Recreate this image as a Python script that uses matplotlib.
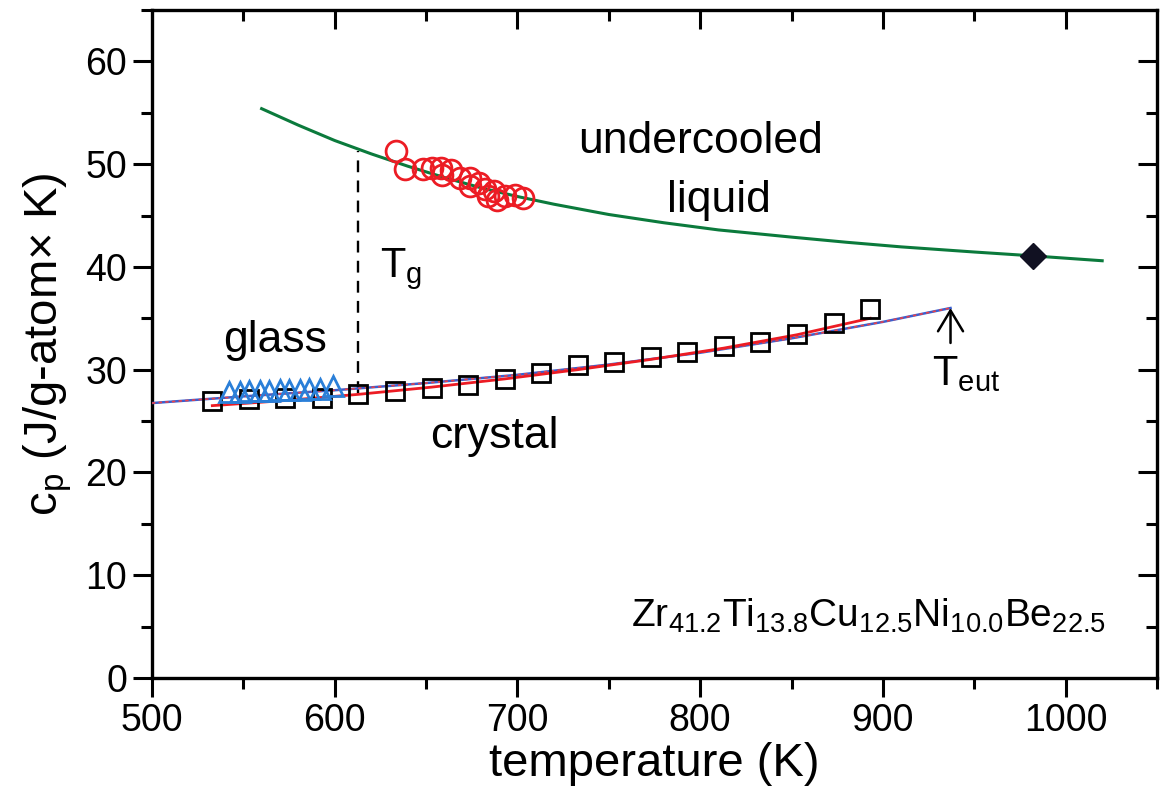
import matplotlib
matplotlib.use("Agg")
import matplotlib.pyplot as plt
import numpy as np

plt.rcParams['font.family'] = ['Liberation Sans', 'DejaVu Sans']
plt.rcParams['mathtext.fontset'] = 'custom'
plt.rcParams['mathtext.rm'] = 'Liberation Sans'
plt.rcParams['mathtext.it'] = 'Liberation Sans'
plt.rcParams['mathtext.default'] = 'regular'

# undercooled liquid fit (green)
liq_T = [560, 580, 600, 620, 640, 660, 680, 700, 720, 750, 780, 810, 850, 880, 910, 950, 980, 1020]
liq_cp = [55.4, 53.8, 52.3, 51.0, 49.8, 48.7, 47.7, 46.85, 46.1, 45.1, 44.3, 43.6, 42.9, 42.4, 41.95, 41.45, 41.1, 40.6]

# undercooled liquid data (red circles)
uc_T = [633.5, 638.5, 648.2, 653.1, 658.0, 658.6, 663.7, 668.6, 674.1, 674.1, 679.2, 682.3, 684.1, 687.2, 688.7, 693.2, 698.7, 703.2]
uc_cp = [51.25, 49.5, 49.5, 49.6, 49.6, 48.9, 49.4, 48.7, 48.7, 47.9, 48.2, 47.6, 46.9, 47.4, 46.5, 46.9, 47.0, 46.7]

# glass data (blue triangles)
gl_T = [542, 548, 553, 559, 564, 570, 575, 581, 586, 592, 599]
gl_cp = [27.8, 27.85, 27.9, 27.9, 27.95, 28.0, 28.0, 28.05, 28.1, 28.15, 28.4]

# crystal data (black squares)
cr_T = [533, 553, 573, 593, 613, 633, 653, 673, 693, 713, 733, 753, 773, 793, 813, 833, 853, 873, 893]
cr_cp = [27.0, 27.1, 27.2, 27.25, 27.6, 27.9, 28.2, 28.5, 29.1, 29.7, 30.5, 30.7, 31.2, 31.7, 32.3, 32.7, 33.5, 34.5, 35.9]

# crystal fits
fit1_T = [500, 550, 600, 650, 700, 750, 800, 850, 900, 937]
fit1_cp = [26.75, 27.4, 28.0, 28.7, 29.5, 30.5, 31.65, 33.05, 34.65, 36.0]
fit2_T = [533, 573, 613, 653, 693, 733, 773, 813, 853, 893]
fit2_cp = [26.5, 27.0, 27.6, 28.3, 29.1, 30.0, 31.0, 32.1, 33.4, 35.0]

# liquidus point (black diamond)
liquidus_T = [982]
liquidus_cp = [41.08]

T_g = 613
T_eut = 937

fig = plt.figure(figsize=(11.62, 8.07), dpi=100)
ax = fig.add_axes([0.1308, 0.1599, 0.8649, 0.8277])

ax.plot(liq_T, liq_cp, color='#0b7a3c', lw=2.2, zorder=3)
ax.plot(fit1_T, fit1_cp, color='#3a5fcf', lw=1.8, zorder=3)
ax.plot(fit1_T, fit1_cp, color='#e8404a', lw=1.2, ls=(0, (2, 2)), zorder=3)
ax.plot(fit2_T, fit2_cp, color='#ec1c24', lw=2.0, zorder=3)
ax.plot(cr_T, cr_cp, ls='none', marker='s', ms=13, mfc='none', mec='black', mew=2.0, zorder=4)
ax.plot(gl_T, gl_cp, ls='none', marker='^', ms=14, mfc='none', mec='#2a7fd8', mew=2.0, zorder=4)
ax.plot(uc_T, uc_cp, ls='none', marker='o', ms=15, mfc='none', mec='#ec1c24', mew=2.0, zorder=4)
ax.plot(liquidus_T, liquidus_cp, ls='none', marker='D', ms=13, color='#111122', zorder=5)

ax.plot([T_g, T_g], [27.7, 51.3], color='black', lw=1.7, ls=(0, (5, 3.5)), zorder=2)
ax.annotate('', xy=(T_eut, 36.0), xytext=(T_eut, 32.6),
            arrowprops=dict(arrowstyle='->,head_length=0.5,head_width=0.3', color='black',
                            lw=1.8, mutation_scale=30, shrinkA=0, shrinkB=0))

ax.text(624.8, 39.0, r'T$_\mathregular{g}$', fontsize=30, ha='left', va='baseline')
ax.text(927, 28.5, r'T$_\mathregular{eut}$', fontsize=30, ha='left', va='baseline')
ax.text(733, 51.1, 'undercooled', fontsize=32, ha='left', va='baseline')
ax.text(782, 45.3, 'liquid', fontsize=32, ha='left', va='baseline')
ax.text(539, 31.7, 'glass', fontsize=32, ha='left', va='baseline')
ax.text(652, 22.4, 'crystal', fontsize=32, ha='left', va='baseline')
ax.text(762, 5.0, r'Zr$_{41.2}$Ti$_{13.8}$Cu$_{12.5}$Ni$_{10.0}$Be$_{22.5}$',
        fontsize=28, ha='left', va='baseline')

ax.set_xlim(500, 1050)
ax.set_ylim(0, 65)
ax.set_xticks([500, 600, 700, 800, 900, 1000])
ax.set_xticks([550, 650, 750, 850, 950, 1050], minor=True)
ax.set_yticks([0, 10, 20, 30, 40, 50, 60])
ax.set_yticks([5, 15, 25, 35, 45, 55, 65], minor=True)

for s in ax.spines.values():
    s.set_linewidth(2.4)
ax.tick_params(which='both', direction='out', width=2.2, labelsize=27, pad=4)
ax.tick_params(which='major', length=14)
ax.tick_params(which='minor', length=8)

# mirrored ticks on top and right, pointing inward
axt = ax.secondary_xaxis('top')
axt.set_xticks([600, 700, 800, 900, 1000])
axt.set_xticks([550, 650, 750, 850, 950], minor=True)
axt.tick_params(which='both', direction='in', width=2.2, labeltop=False)
axt.tick_params(which='major', length=14)
axt.tick_params(which='minor', length=8)
axr = ax.secondary_yaxis('right')
axr.set_yticks([10, 20, 30, 40, 50, 60])
axr.set_yticks([5, 15, 25, 35, 45, 55], minor=True)
axr.tick_params(which='both', direction='in', width=2.2, labelright=False)
axr.tick_params(which='major', length=14)
axr.tick_params(which='minor', length=8)

ax.set_xlabel('temperature (K)', fontsize=34, labelpad=2)
ax.set_ylabel(r'c$_\mathregular{p}$ (J/g-atom$\times$ K)', fontsize=34, labelpad=8)

fig.savefig('out.png', dpi=100)
